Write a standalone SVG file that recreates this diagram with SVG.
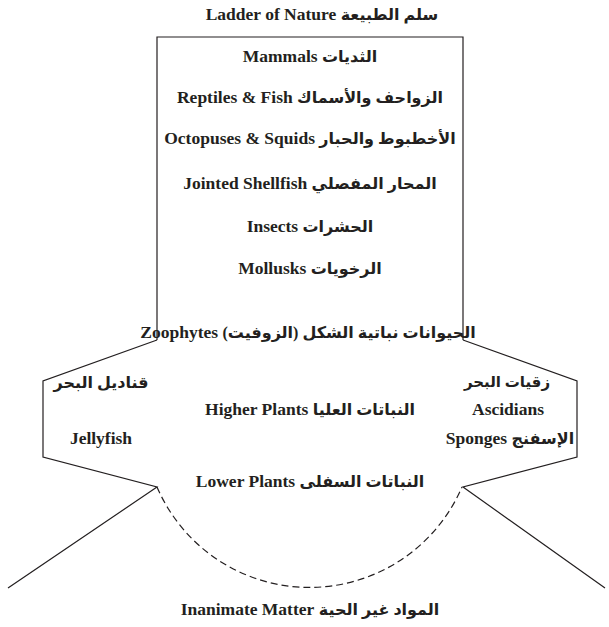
<svg xmlns="http://www.w3.org/2000/svg" width="609" height="627" viewBox="0 0 609 627">
<style>
text{font-family:"Liberation Serif","DejaVu Sans",serif;font-weight:bold;font-size:17.5px;fill:#231f20;text-anchor:middle;direction:rtl}
.ar{font-size:16px}
.ln{fill:none;stroke:#231f20;stroke-width:1.2}
.dash{fill:none;stroke:#231f20;stroke-width:1.2;stroke-dasharray:7 4}
</style>
<rect width="609" height="627" fill="#fff"/>
<g id="connectors">
<path class="ln" d="M157,340 V37 H463 V340"/>
<path class="ln" d="M157,340 L43,381 V457 L157,487 L8,588"/>
<path class="ln" d="M463,340 L577,381 V457 L463,487 L605,588"/>
<path class="dash" d="M157,487 A166,166 0 0 0 462,487"/>
</g>
<g id="title"><text x="322" y="20"><tspan class="ar">سلم الطبيعة</tspan> Ladder of Nature</text></g>
<g id="mammals"><text x="310" y="62"><tspan class="ar">الثديات</tspan> Mammals</text></g>
<g id="reptiles"><text x="310" y="103"><tspan class="ar">الزواحف والأسماك</tspan> Reptiles &amp; Fish</text></g>
<g id="octopuses"><text x="310" y="144"><tspan class="ar">الأخطبوط والحبار</tspan> Octopuses &amp; Squids</text></g>
<g id="shellfish"><text x="310" y="189"><tspan class="ar">المحار المفصلي</tspan> Jointed Shellfish</text></g>
<g id="insects"><text x="310" y="232"><tspan class="ar">الحشرات</tspan> Insects</text></g>
<g id="mollusks"><text x="310" y="274"><tspan class="ar">الرخويات</tspan> Mollusks</text></g>
<g id="zoophytes"><text x="308" y="338"><tspan class="ar">الحيوانات نباتية الشكل (الزوفيت)</tspan> Zoophytes</text></g>
<g id="jellyfish"><text x="101" y="388" class="ar">قناديل البحر</text><text x="101" y="444">Jellyfish</text></g>
<g id="higher-plants"><text x="310" y="415"><tspan class="ar">النباتات العليا</tspan> Higher Plants</text></g>
<g id="ascidians"><text x="507" y="387" class="ar" style="font-size:15px">زقيات البحر</text><text x="508" y="415">Ascidians</text><text x="510" y="444"><tspan class="ar">الإسفنج</tspan> Sponges</text></g>
<g id="lower-plants"><text x="310" y="487"><tspan class="ar">النباتات السفلى</tspan> Lower Plants</text></g>
<g id="inanimate"><text x="310" y="615"><tspan class="ar">المواد غير الحية</tspan> Inanimate Matter</text></g>
</svg>
